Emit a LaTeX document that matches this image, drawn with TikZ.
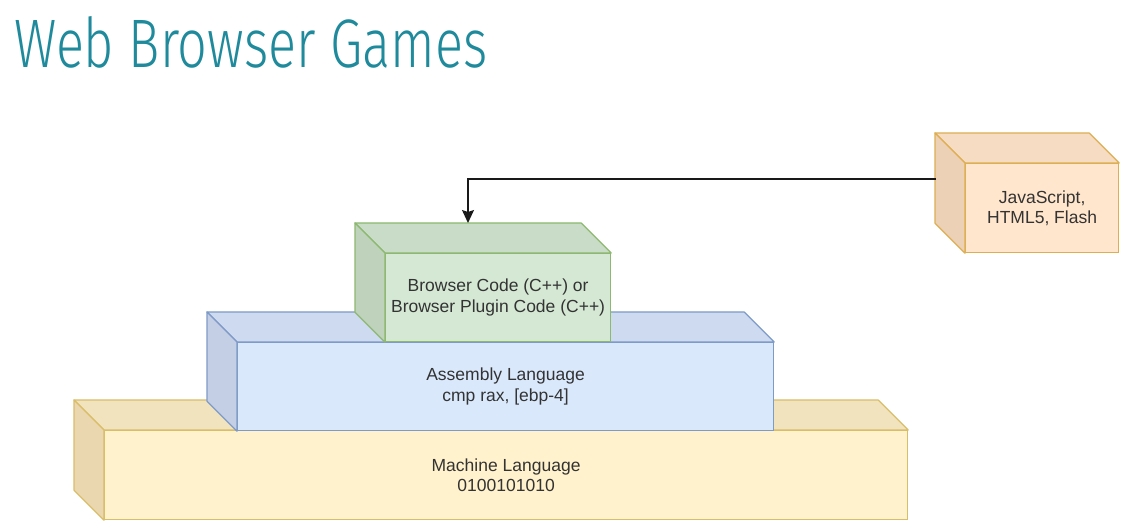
\documentclass[tikz,border=0pt]{standalone}
\usepackage{fontspec}
\setmainfont{Liberation Sans}
\newfontfamily\titlefont{Fira Sans Light}
\usetikzlibrary{arrows.meta}
\definecolor{titlecol}{HTML}{1E8A9C}
\definecolor{txt}{HTML}{333333}
\definecolor{yfront}{HTML}{FFF2CC}\definecolor{ytop}{HTML}{F1E3BE}\definecolor{yside}{HTML}{EAD7AF}\definecolor{ystroke}{HTML}{D9BE6A}
\definecolor{bfront}{HTML}{DAE8FC}\definecolor{btop}{HTML}{CEDAF0}\definecolor{bside}{HTML}{C4CFE6}\definecolor{bstroke}{HTML}{7E9AC7}
\definecolor{gfront}{HTML}{D5E8D4}\definecolor{gtop}{HTML}{C9DCC7}\definecolor{gside}{HTML}{BED2BC}\definecolor{gstroke}{HTML}{8DB870}
\definecolor{ofront}{HTML}{FFE6CC}\definecolor{otop}{HTML}{F5DCC3}\definecolor{oside}{HTML}{EDD1B7}\definecolor{ostroke}{HTML}{DDAE52}
\tikzset{
  face/.style={draw, line width=1.2pt, anchor=north west, inner sep=0pt, align=center,
    text=txt, font=\fontsize{17.5}{20.5}\selectfont},
  conn/.style={line width=1.4pt, draw=black!90, -{Stealth[length=13pt,width=12pt,inset=2pt]}},
}
% #1 node name, #2 top colour, #3 side colour, #4 stroke colour
\newcommand\cubefaces[4]{%
  \filldraw[fill=#2, draw=#4, line width=1.2pt, line join=round]
    (#1.north west) -- ++(-30,-30) -- ([shift={(-30,-30)}]#1.north east) -- (#1.north east) -- cycle;
  \filldraw[fill=#3, draw=#4, line width=1.2pt, line join=round]
    (#1.north west) -- ++(-30,-30) -- ([shift={(-30,-30)}]#1.south west) -- (#1.south west) -- cycle;
}
\begin{document}
\begin{tikzpicture}[x=1pt,y=-1pt]
\useasboundingbox[fill=white] (0,0) rectangle (1128,526);
\node[anchor=base west, inner sep=0pt, text=titlecol] (title) at (14,68)
  {\resizebox{473pt}{51pt}{\titlefont Web Browser Games}};
% machine language
\node[face, fill=yfront, draw=ystroke, minimum width=803pt, minimum height=89pt] (mach) at (104,430)
  {Machine Language\\0100101010};
\cubefaces{mach}{ytop}{yside}{ystroke}
% assembly
\node[face, fill=bfront, draw=bstroke, minimum width=536pt, minimum height=88pt] (asm) at (237,342)
  {Assembly Language\\cmp rax, [ebp-4]};
\cubefaces{asm}{btop}{bside}{bstroke}
% browser
\node[face, fill=gfront, draw=gstroke, minimum width=225pt, minimum height=88pt] (brw) at (385,253)
  {Browser Code (C++) or\\Browser Plugin Code (C++)};
\cubefaces{brw}{gtop}{gside}{gstroke}
% javascript
\node[face, fill=ofront, draw=ostroke, minimum width=153pt, minimum height=89pt] (js) at (965,163)
  {JavaScript,\\HTML5, Flash};
\cubefaces{js}{otop}{oside}{ostroke}
% connector
\coordinate (jsin) at ([shift={(-29,-29)}]js.west);
\coordinate (brwtop) at (468,223);
\draw[conn] (jsin) -| (brwtop);
\end{tikzpicture}
\end{document}
